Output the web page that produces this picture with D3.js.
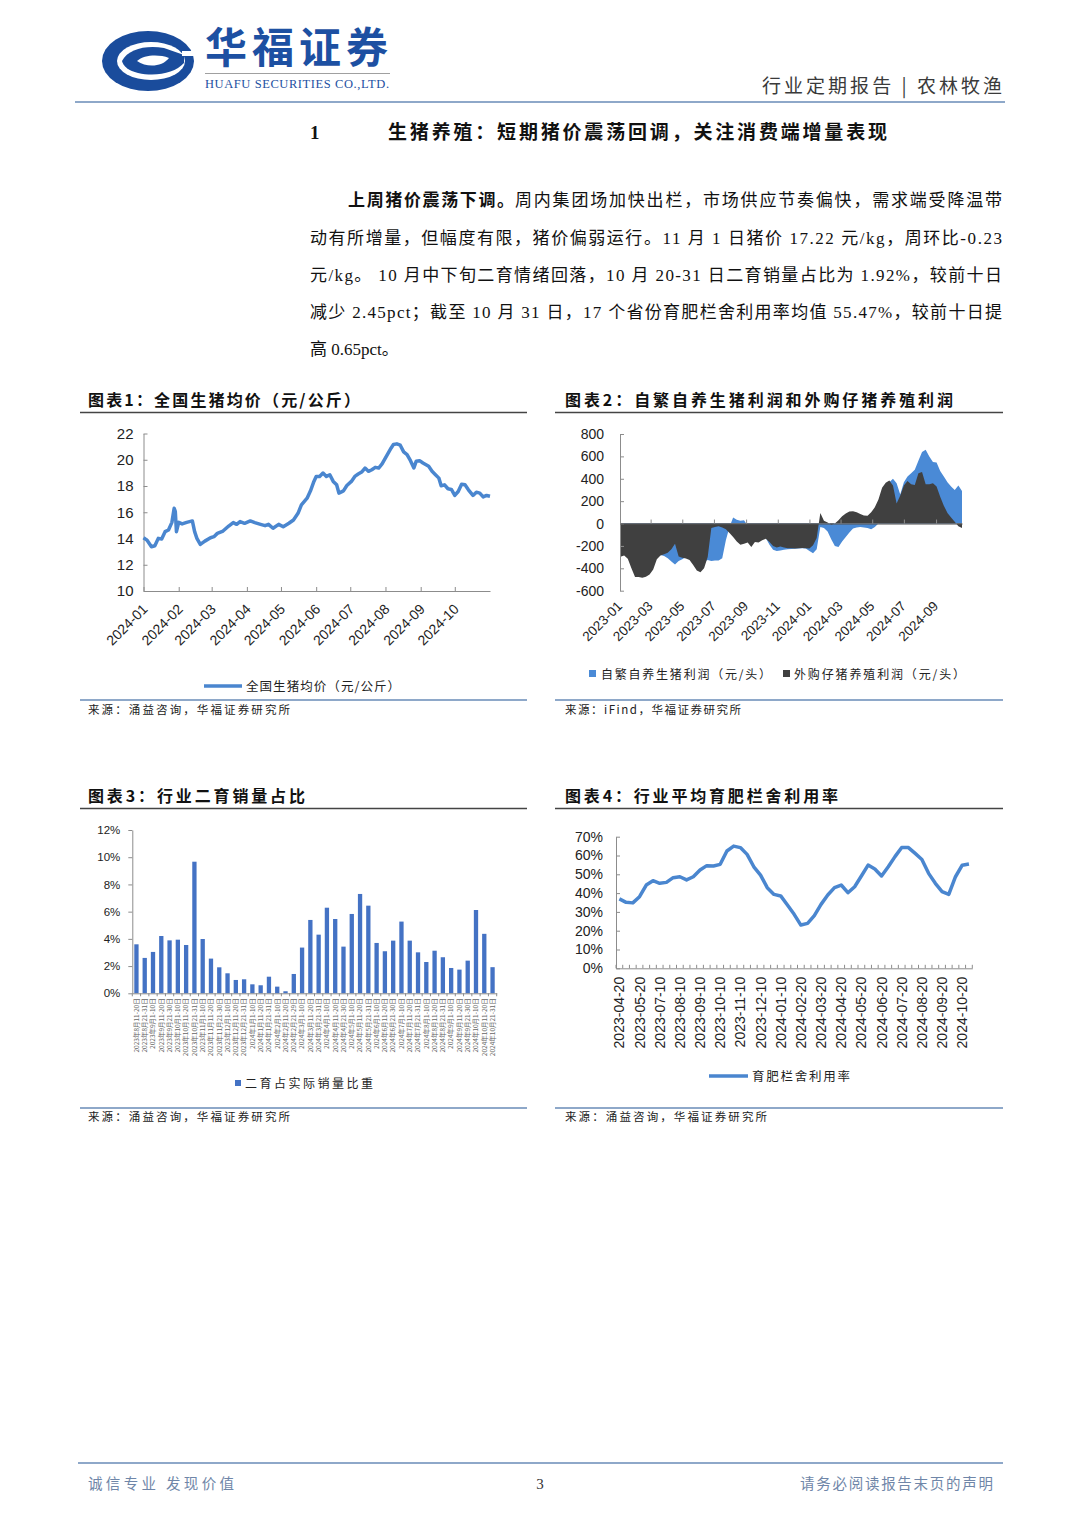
<!DOCTYPE html>
<html><head><meta charset="utf-8">
<script src="https://cdn.jsdelivr.net/npm/d3@7"></script>
<style>body{margin:0;background:#fff}svg{display:block}</style>
</head><body>
<script>
// ---------------- DATA ----------------
const priceDates = ["2024-01-01","2024-01-04","2024-01-08","2024-01-11","2024-01-14","2024-01-17","2024-01-20","2024-01-23","2024-01-26","2024-01-28","2024-01-29","2024-01-30","2024-02-01","2024-02-04","2024-02-08","2024-02-13","2024-02-15","2024-02-17","2024-02-20","2024-02-24","2024-02-29","2024-03-03","2024-03-06","2024-03-11","2024-03-16","2024-03-20","2024-03-23","2024-03-26","2024-03-30","2024-04-04","2024-04-08","2024-04-13","2024-04-17","2024-04-20","2024-04-24","2024-04-29","2024-05-03","2024-05-08","2024-05-12","2024-05-16","2024-05-19","2024-05-24","2024-05-27","2024-05-30","2024-06-01","2024-06-04","2024-06-07","2024-06-10","2024-06-13","2024-06-16","2024-06-19","2024-06-21","2024-06-25","2024-06-28","2024-07-02","2024-07-05","2024-07-08","2024-07-11","2024-07-14","2024-07-17","2024-07-20","2024-07-23","2024-07-26","2024-07-29","2024-08-01","2024-08-04","2024-08-06","2024-08-08","2024-08-11","2024-08-14","2024-08-17","2024-08-20","2024-08-23","2024-08-26","2024-08-28","2024-08-31","2024-09-03","2024-09-08","2024-09-11","2024-09-14","2024-09-17","2024-09-19","2024-09-22","2024-09-25","2024-09-28","2024-10-01","2024-10-04","2024-10-07","2024-10-10","2024-10-13","2024-10-17","2024-10-20","2024-10-23","2024-10-26","2024-10-29","2024-11-01"];
const priceValues = [14.06,13.88,13.37,13.45,14.01,13.96,14.52,14.65,15.23,16.31,16.05,14.52,15.23,15.11,15.23,15.34,14.52,14.01,13.55,13.80,14.06,14.14,14.39,14.57,14.95,15.21,15.08,15.29,15.16,15.34,15.21,15.08,14.98,15.08,14.78,15.08,14.90,15.16,15.41,15.92,16.56,17.07,17.63,18.35,18.73,18.73,18.99,18.73,18.86,18.35,18.09,17.46,17.63,18.04,18.35,18.73,18.91,19.06,19.37,19.12,19.24,19.42,19.37,19.68,20.14,20.60,20.90,21.16,21.21,21.11,20.60,20.39,19.93,19.37,19.88,19.93,19.75,19.50,19.12,18.86,18.60,18.02,18.09,17.79,17.74,17.28,17.58,18.14,18.09,17.71,17.28,17.53,17.46,17.17,17.28,17.22];
const priceTicks = [10,12,14,16,18,20,22];
const priceMonthTicks = ["2024-01","2024-02","2024-03","2024-04","2024-05","2024-06","2024-07","2024-08","2024-09","2024-10"];

const profitDates = ["2023-01-02","2023-01-09","2023-01-16","2023-01-23","2023-01-30","2023-02-06","2023-02-13","2023-02-20","2023-02-27","2023-03-06","2023-03-13","2023-03-20","2023-03-27","2023-04-03","2023-04-10","2023-04-17","2023-04-24","2023-05-01","2023-05-08","2023-05-15","2023-05-22","2023-05-29","2023-06-05","2023-06-12","2023-06-19","2023-06-26","2023-07-03","2023-07-10","2023-07-17","2023-07-24","2023-07-31","2023-08-07","2023-08-14","2023-08-21","2023-08-28","2023-09-04","2023-09-11","2023-09-18","2023-09-25","2023-10-02","2023-10-09","2023-10-16","2023-10-23","2023-10-30","2023-11-06","2023-11-13","2023-11-20","2023-11-27","2023-12-04","2023-12-11","2023-12-18","2023-12-25","2024-01-01","2024-01-08","2024-01-15","2024-01-22","2024-01-29","2024-02-05","2024-02-12","2024-02-19","2024-02-26","2024-03-04","2024-03-11","2024-03-18","2024-03-25","2024-04-01","2024-04-08","2024-04-15","2024-04-22","2024-04-29","2024-05-06","2024-05-13","2024-05-20","2024-05-27","2024-06-03","2024-06-10","2024-06-17","2024-06-24","2024-07-01","2024-07-08","2024-07-15","2024-07-22","2024-07-29","2024-08-05","2024-08-12","2024-08-19","2024-08-26","2024-09-02","2024-09-09","2024-09-16","2024-09-23","2024-09-30","2024-10-07","2024-10-14","2024-10-21"];
const selfBreedProfit = [-250,-260,-280,-330,-400,-420,-430,-420,-400,-350,-300,-280,-290,-310,-340,-365,-335,-320,-300,-310,-340,-370,-380,-340,-325,-335,-330,-330,-310,-150,-30,55,35,25,30,-20,-130,-140,-150,-140,-130,-190,-235,-245,-240,-235,-230,-228,-225,-222,-220,-222,-245,-265,-230,-30,-40,-70,-140,-200,-210,-160,-120,-80,-45,-35,-30,-35,-40,-50,-30,0,100,300,370,400,360,260,370,420,450,480,560,640,660,600,550,545,470,420,370,330,300,340,290];
const pigletProfit = [-296,-285,-315,-400,-478,-478,-484,-475,-455,-410,-320,-285,-275,-260,-230,-180,-295,-305,-312,-325,-370,-420,-435,-400,-300,-40,-30,-25,-35,-50,-85,-120,-160,-190,-180,-170,-210,-165,-170,-150,-135,-165,-200,-215,-205,-215,-220,-220,-222,-220,-218,-220,-222,-195,-130,95,25,10,-10,0,30,65,90,108,110,100,85,72,70,100,145,215,320,365,385,340,180,250,340,380,350,345,450,460,350,350,360,330,240,160,95,55,15,-25,-40];
const profitTicks = [-600,-400,-200,0,200,400,600,800];
const profitMonthTicks = ["2023-01","2023-03","2023-05","2023-07","2023-09","2023-11","2024-01","2024-03","2024-05","2024-07","2024-09"];
const profitSeriesNames = ["自繁自养生猪利润（元/头）","外购仔猪养殖利润（元/头）"];

const salesPeriods = ["2023年8月11-20日","2023年8月21-31日","2023年9月1-10日","2023年9月11-20日","2023年9月21-30日","2023年10月1-10日","2023年10月11-20日","2023年10月21-31日","2023年11月1-10日","2023年11月11-20日","2023年11月21-30日","2023年12月1-10日","2023年12月11-20日","2023年12月21-31日","2024年1月1-10日","2024年1月11-20日","2024年1月21-31日","2024年2月1-10日","2024年2月11-20日","2024年2月21-29日","2024年3月1-10日","2024年3月11-20日","2024年3月21-31日","2024年4月1-10日","2024年4月11-20日","2024年4月21-30日","2024年5月1-10日","2024年5月11-20日","2024年5月21-31日","2024年6月1-10日","2024年6月11-20日","2024年6月21-30日","2024年7月1-10日","2024年7月11-20日","2024年7月21-31日","2024年8月1-10日","2024年8月11-20日","2024年8月21-31日","2024年9月1-10日","2024年9月11-20日","2024年9月21-30日","2024年10月1-10日","2024年10月11-20日","2024年10月21-31日"];
const salesShare = [0.0360,0.0260,0.0304,0.0421,0.0389,0.0394,0.0355,0.0967,0.0399,0.0255,0.0191,0.0147,0.0098,0.0103,0.0066,0.0059,0.0122,0.0049,0.0015,0.0142,0.0336,0.0539,0.0431,0.0629,0.0546,0.0343,0.0583,0.0730,0.0644,0.0370,0.0309,0.0387,0.0527,0.0387,0.0301,0.0230,0.0313,0.0265,0.0186,0.0174,0.0240,0.0612,0.0437,0.0192];
const shareTicks = [0,0.02,0.04,0.06,0.08,0.10,0.12];

const utilDates = ["2023-04-20","2023-04-30","2023-05-10","2023-05-20","2023-05-31","2023-06-30","2023-07-10","2023-07-20","2023-07-31","2023-08-10","2023-08-20","2023-08-31","2023-09-10","2023-09-20","2023-09-30","2023-10-10","2023-10-20","2023-10-31","2023-11-10","2023-11-20","2023-11-30","2023-12-10","2023-12-20","2023-12-31","2024-01-10","2024-01-20","2024-01-31","2024-02-20","2024-02-29","2024-03-10","2024-03-20","2024-03-31","2024-04-10","2024-04-20","2024-04-30","2024-05-10","2024-05-20","2024-05-31","2024-06-10","2024-06-20","2024-06-30","2024-07-10","2024-07-20","2024-07-31","2024-08-10","2024-08-20","2024-08-31","2024-09-10","2024-09-20","2024-09-30","2024-10-10","2024-10-20","2024-10-31"];
const utilRate = [0.369,0.351,0.348,0.381,0.443,0.466,0.452,0.457,0.482,0.487,0.470,0.487,0.523,0.546,0.544,0.553,0.624,0.650,0.642,0.606,0.540,0.496,0.429,0.393,0.385,0.337,0.287,0.230,0.239,0.280,0.340,0.390,0.429,0.443,0.402,0.434,0.491,0.549,0.528,0.491,0.540,0.594,0.643,0.642,0.611,0.579,0.505,0.452,0.408,0.393,0.487,0.5482,0.5547];
const utilTicks = [0,0.1,0.2,0.3,0.4,0.5,0.6,0.7];
const utilLabelDates = ["2023-04-20","2023-05-20","2023-07-10","2023-08-10","2023-09-10","2023-10-10","2023-11-10","2023-12-10","2024-01-10","2024-02-20","2024-03-20","2024-04-20","2024-05-20","2024-06-20","2024-07-20","2024-08-20","2024-09-20","2024-10-20"];

// ---------------- SETUP ----------------
const SERIF = "'Liberation Serif','Noto Sans CJK SC',serif";
const SANS = "'Liberation Sans',Arial,'Noto Sans CJK SC',sans-serif";
const CJK = "'Noto Sans CJK SC',sans-serif";
const BLUE_LINE = "#4a86cf", BLUE_AREA = "#4a8ad6", DARK_AREA = "#404040", BAR = "#4472c4";
const SEP = "#8ea8c9";

const svg = d3.select("body").append("svg").attr("width",1080).attr("height",1527);
svg.append("rect").attr("width",1080).attr("height",1527).attr("fill","#fff");

function txt(x,y,s,o={}){
  const t = svg.append("text").attr("x",x).attr("y",y).text(s)
    .attr("font-family",o.ff||SERIF).attr("font-size",o.fs||14).attr("fill",o.fill||"#222");
  if(o.fw) t.attr("font-weight",o.fw);
  if(o.anchor) t.attr("text-anchor",o.anchor);
  if(o.len) t.attr("textLength",o.len).attr("lengthAdjust","spacing");
  return t;
}
function hline(x1,x2,y,color,w){
  svg.append("line").attr("x1",x1).attr("x2",x2).attr("y1",y).attr("y2",y).attr("stroke",color).attr("stroke-width",w);
}
function styleAxis(g,fs,ff,fill){
  g.attr("font-size",null).attr("font-family",null);
  g.selectAll("path.domain").attr("stroke","#8c8c8c").attr("stroke-width",1);
  g.selectAll(".tick line").attr("stroke","#8c8c8c");
  g.selectAll(".tick text").attr("font-size",fs).attr("font-family",ff).attr("fill",fill||"#222");
}
const parse = d3.timeParse("%Y-%m-%d");
const parseM = d3.timeParse("%Y-%m");

// ---------------- HEADER ----------------
const logo = svg.append("g");
logo.append("ellipse").attr("cx",148).attr("cy",61).attr("rx",46).attr("ry",30).attr("fill","#1a4c9c");
logo.append("ellipse").attr("cx",151).attr("cy",61).attr("rx",34).attr("ry",19).attr("fill","#fff");
logo.append("path").attr("d","M122,61 C128,49 146,45 164,48 L184,55 L184,63 C175,73 156,77 138,73 C129,71 123,66 122,61 Z").attr("fill","#1a4c9c");
logo.append("path").attr("d","M137,61 C144,55 158,54 169,58 C162,67 147,68 137,61 Z").attr("fill","#fff");
logo.append("rect").attr("x",182).attr("y",51).attr("width",14).attr("height",5).attr("fill","#fff");
txt(205,63,"华福证券",{ff:CJK,fs:42,fw:700,fill:"#1d50a2",len:183});
hline(205,390,73.5,"#a0a0a0",1);
txt(205,88,"HUAFU SECURITIES CO.,LTD.",{ff:SERIF,fs:12.5,fill:"#1d50a2",len:184});
txt(762,93,"行业定期报告 | 农林牧渔",{ff:CJK,fs:19,fill:"#3a3a3a",len:240});
hline(75,1005,102,SEP,2);

// ---------------- SECTION TEXT ----------------
txt(310,139,"1",{ff:SERIF,fs:19,fw:700,fill:"#111"});
txt(388,139,"生猪养殖：短期猪价震荡回调，关注消费端增量表现",{ff:SERIF,fs:19,fw:700,fill:"#111",len:499});
txt(348,206,"上周猪价震荡下调。",{ff:SERIF,fs:17,fw:700,fill:"#111",len:166});
txt(515,206,"周内集团场加快出栏，市场供应节奏偏快，需求端受降温带",{ff:SERIF,fs:17,fill:"#111",len:487});
txt(310,244,"动有所增量，但幅度有限，猪价偏弱运行。11 月 1 日猪价 17.22 元/kg，周环比-0.23",{ff:SERIF,fs:17,fill:"#111",len:692});
txt(310,281,"元/kg。 10 月中下旬二育情绪回落，10 月 20-31 日二育销量占比为 1.92%，较前十日",{ff:SERIF,fs:17,fill:"#111",len:692});
txt(310,318,"减少 2.45pct；截至 10 月 31 日，17 个省份育肥栏舍利用率均值 55.47%，较前十日提",{ff:SERIF,fs:17,fill:"#111",len:692});
txt(310,355,"高 0.65pct。",{ff:SERIF,fs:17,fill:"#111"});

// ---------------- CHART FRAMES ----------------
txt(88,406,"图表1：全国生猪均价（元/公斤）",{ff:CJK,fs:16,fw:700,fill:"#111",len:272});
txt(565,406,"图表2：自繁自养生猪利润和外购仔猪养殖利润",{ff:CJK,fs:16,fw:700,fill:"#111",len:388});
hline(80,527,412.5,"#444",1.5);
hline(555,1003,412.5,"#444",1.5);
hline(80,527,700,SEP,2);
hline(555,1003,700,SEP,2);
txt(88,714,"来源：涌益咨询，华福证券研究所",{ff:CJK,fs:11.5,fill:"#222",len:202});
txt(565,714,"来源：iFind，华福证券研究所",{ff:CJK,fs:11.5,fill:"#222",len:176});

txt(88,802,"图表3：行业二育销量占比",{ff:CJK,fs:16,fw:700,fill:"#111",len:217});
txt(565,802,"图表4：行业平均育肥栏舍利用率",{ff:CJK,fs:16,fw:700,fill:"#111",len:273});
hline(80,527,808.5,"#444",1.5);
hline(555,1003,808.5,"#444",1.5);
hline(80,527,1108,SEP,2);
hline(555,1003,1108,SEP,2);
txt(88,1121,"来源：涌益咨询，华福证券研究所",{ff:CJK,fs:11.5,fill:"#222",len:202});
txt(565,1121,"来源：涌益咨询，华福证券研究所",{ff:CJK,fs:11.5,fill:"#222",len:202});

// ---------------- CHART 1 ----------------
{
  const x = d3.scaleTime().domain([parse("2024-01-01"),parse("2024-11-01")]).range([143.5,490]);
  const y = d3.scaleLinear().domain([10,22]).range([591,433.5]);
  const gy = svg.append("g").attr("transform","translate(143.5,0)")
    .call(d3.axisLeft(y).tickValues(priceTicks).tickSizeInner(-4).tickSizeOuter(0).tickPadding(10));
  styleAxis(gy,15,SANS);
  const gx = svg.append("g").attr("transform","translate(0,591)")
    .call(d3.axisBottom(x).tickValues(priceMonthTicks.map(parseM)).tickSizeInner(-4).tickSizeOuter(0).tickFormat(d3.timeFormat("%Y-%m")));
  styleAxis(gx,14,SANS);
  gx.selectAll(".tick text").attr("text-anchor","end").attr("x",0).attr("y",0).attr("dy",null)
    .attr("transform","translate(4.5,19) rotate(-45)");
  const line = d3.line().x((d,i)=>x(parse(priceDates[i]))).y(d=>y(d));
  svg.append("path").datum(priceValues).attr("d",line).attr("fill","none")
    .attr("stroke",BLUE_LINE).attr("stroke-width",3.5).attr("stroke-linejoin","round");
  hline(204,242,686,BLUE_LINE,3.5);
  txt(246,691,"全国生猪均价（元/公斤）",{ff:CJK,fs:12.5,fill:"#222",len:154});
}

// ---------------- CHART 2 ----------------
{
  const x = d3.scaleTime().domain([parse("2023-01-01"),parse("2024-10-21")]).range([620,962]);
  const y = d3.scaleLinear().domain([-600,800]).range([590.7,434]);
  const area = d3.area().x((d,i)=>x(parse(profitDates[i]))).y0(y(0)).y1(d=>y(d));
  svg.append("path").datum(selfBreedProfit).attr("d",area).attr("fill",BLUE_AREA);
  svg.append("path").datum(pigletProfit).attr("d",area).attr("fill",DARK_AREA);
  const gy = svg.append("g").attr("transform","translate(620,0)")
    .call(d3.axisLeft(y).tickValues(profitTicks).tickSizeInner(-4).tickSizeOuter(0).tickPadding(16).tickFormat(d=>String(d)));
  styleAxis(gy,14,SANS);
  const gx = svg.append("g").attr("transform",`translate(0,${y(0)})`)
    .call(d3.axisBottom(x).tickValues(profitMonthTicks.map(parseM)).tickSizeInner(-4).tickSizeOuter(0).tickFormat(d3.timeFormat("%Y-%m")));
  styleAxis(gx,13.5,SANS);
  gx.select("path.domain").attr("stroke","#555");
  gx.selectAll(".tick text").attr("text-anchor","end").attr("x",0).attr("y",0).attr("dy",null)
    .attr("transform",`translate(2.5,${607-y(0)}) rotate(-45)`);
  svg.append("rect").attr("x",589).attr("y",670).attr("width",7).attr("height",7).attr("fill",BLUE_AREA);
  txt(601,679,profitSeriesNames[0],{ff:CJK,fs:12,fill:"#222",len:170});
  svg.append("rect").attr("x",783).attr("y",670).attr("width",7).attr("height",7).attr("fill",DARK_AREA);
  txt(794,679,profitSeriesNames[1],{ff:CJK,fs:12,fill:"#222",len:171});
}

// ---------------- CHART 3 ----------------
{
  const x = d3.scaleBand().domain(salesPeriods).range([132.3,496.7]).paddingInner(0.48).paddingOuter(0.24);
  const y = d3.scaleLinear().domain([0,0.12]).range([993.3,830]);
  svg.append("g").selectAll("rect").data(salesShare).join("rect")
    .attr("x",(d,i)=>x(salesPeriods[i])).attr("width",x.bandwidth())
    .attr("y",d=>y(d)).attr("height",d=>y(0)-y(d)).attr("fill",BAR);
  const gy = svg.append("g").attr("transform","translate(132.3,0)")
    .call(d3.axisLeft(y).tickValues(shareTicks).tickSizeInner(4).tickSizeOuter(0).tickPadding(8).tickFormat(d=>Math.round(d*100)+"%"));
  styleAxis(gy,11.5,SANS);
  const gx = svg.append("g").attr("transform","translate(0,993.3)")
    .call(d3.axisBottom(x).tickSize(0).tickSizeOuter(0));
  styleAxis(gx,6.5,CJK,"#666");
  gx.selectAll(".tick text").attr("text-anchor","end").attr("x",0).attr("y",0).attr("dy",null)
    .attr("transform","translate(2.3,5) rotate(-90)");
  gx.selectAll(".bd").data(d3.range(salesPeriods.length+1)).join("line")
    .attr("x1",i=>132.3+i*x.step()).attr("x2",i=>132.3+i*x.step()).attr("y1",0).attr("y2",3)
    .attr("stroke","#8c8c8c");
  svg.append("rect").attr("x",235).attr("y",1080).attr("width",6).attr("height",6).attr("fill",BAR);
  txt(245,1088,"二育占实际销量比重",{ff:CJK,fs:12,fill:"#222",len:128});
}

// ---------------- CHART 4 ----------------
{
  const x = d3.scaleBand().domain(utilDates).range([616,972.3]);
  const y = d3.scaleLinear().domain([0,0.7]).range([968.3,836.7]);
  const gy = svg.append("g").attr("transform","translate(616,0)")
    .call(d3.axisLeft(y).tickValues(utilTicks).tickSizeInner(-4).tickSizeOuter(0).tickPadding(13).tickFormat(d=>Math.round(d*100)+"%"));
  styleAxis(gy,14,SANS);
  const gx = svg.append("g").attr("transform","translate(0,968.3)")
    .call(d3.axisBottom(x).tickValues(utilLabelDates).tickSize(0).tickSizeOuter(0));
  styleAxis(gx,14,SANS);
  gx.selectAll(".tick text").attr("text-anchor","end").attr("x",0).attr("y",0).attr("dy",null)
    .attr("transform","translate(5,8.5) rotate(-90)");
  gx.selectAll(".bd").data(d3.range(utilDates.length+1)).join("line")
    .attr("x1",i=>616+i*x.step()).attr("x2",i=>616+i*x.step()).attr("y1",0).attr("y2",-3.5)
    .attr("stroke","#8c8c8c");
  const line = d3.line().x((d,i)=>x(utilDates[i])+x.bandwidth()/2).y(d=>y(d));
  svg.append("path").datum(utilRate).attr("d",line).attr("fill","none")
    .attr("stroke",BLUE_LINE).attr("stroke-width",3.5).attr("stroke-linejoin","round");
  hline(709,748,1076,BLUE_LINE,3.5);
  txt(752,1081,"育肥栏舍利用率",{ff:CJK,fs:12.5,fill:"#222",len:98});
}

// ---------------- FOOTER ----------------
hline(78,1003,1463,SEP,2);
txt(88,1489,"诚信专业  发现价值",{ff:CJK,fs:14.5,fill:"#6f86a8",len:146});
txt(540,1489,"3",{ff:SERIF,fs:15,fill:"#333",anchor:"middle"});
txt(800,1489,"请务必阅读报告末页的声明",{ff:CJK,fs:14.5,fill:"#6f86a8",len:193});
</script>
</body></html>
